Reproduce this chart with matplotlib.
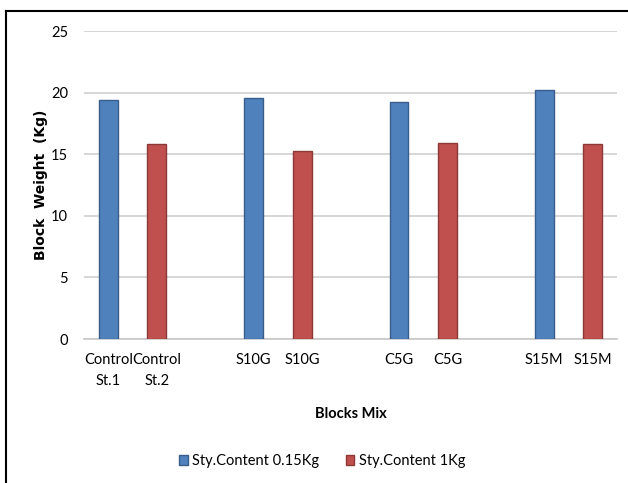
import matplotlib
matplotlib.use("Agg")
import matplotlib.pyplot as plt
from matplotlib.lines import Line2D
import numpy as np

# block weights (kg) for each mix at the two styrene contents
mixes = ["Control", "S10G", "C5G", "S15M"]
labels_low = ["Control\nSt.1", "S10G", "C5G", "S15M"]
labels_high = ["Control\nSt.2", "S10G", "C5G", "S15M"]
weight_low = [19.4, 19.6, 19.25, 20.2]
weight_high = [15.8, 15.25, 15.9, 15.8]

plt.rcParams["font.family"] = ["Lato", "DejaVu Sans"]

fig = plt.figure(figsize=(6.28, 4.83), dpi=100)
ax = fig.add_axes([0.1338, 0.2981, 0.8487, 0.6377])

# each mix takes three slots: low, high, then an empty gap
pos_low = np.arange(len(mixes)) * 3
pos_high = pos_low + 1

ax.bar(pos_low, weight_low, width=0.39, color="#4f81bd", edgecolor="#385d8a",
       linewidth=1.0, label="Sty.Content 0.15Kg", zorder=3)
ax.bar(pos_high, weight_high, width=0.39, color="#c0504d", edgecolor="#8c3836",
       linewidth=1.0, label="Sty.Content 1Kg", zorder=3)

ticks = np.concatenate([pos_low, pos_high])
ax.set_xticks(ticks)
ax.set_xticklabels(labels_low + labels_high, fontsize=10.5, linespacing=1.6)
ax.set_xlim(-0.5, 10.5)
ax.set_ylim(0, 25)
ax.set_yticks([0, 5, 10, 15, 20, 25])
ax.tick_params(axis="y", labelsize=10.5, length=0, pad=11.5)
ax.tick_params(axis="x", length=0, pad=10)

ax.yaxis.grid(True, color="#d0d0d0", linewidth=1.2, zorder=0)
for side in ("top", "right", "left"):
    ax.spines[side].set_visible(False)
ax.spines["bottom"].set_color("#c8c8c8")
ax.spines["bottom"].set_linewidth(1.2)

ax.set_xlabel("Blocks Mix", fontsize=10.5, fontweight="bold", labelpad=14)
ax.set_ylabel("Block  Weight  (Kg)", fontsize=10, fontweight="bold",
              family=["DejaVu Sans"])
ax.yaxis.set_label_coords(-0.0675, 0.5)

fig.legend(loc="center", bbox_to_anchor=(0.513, 0.045), ncol=2, frameon=False,
           fontsize=10.5, handlelength=0.6, handleheight=0.6, handletextpad=0.3,
           columnspacing=1.8)

# outer frame: top and left edges only
fig.add_artist(Line2D([0.0096, 1.0], [0.978, 0.978], color="black", linewidth=1.5))
fig.add_artist(Line2D([0.0096, 0.0096], [0.0, 0.978], color="black", linewidth=1.5))

fig.savefig("out.png", dpi=100)
